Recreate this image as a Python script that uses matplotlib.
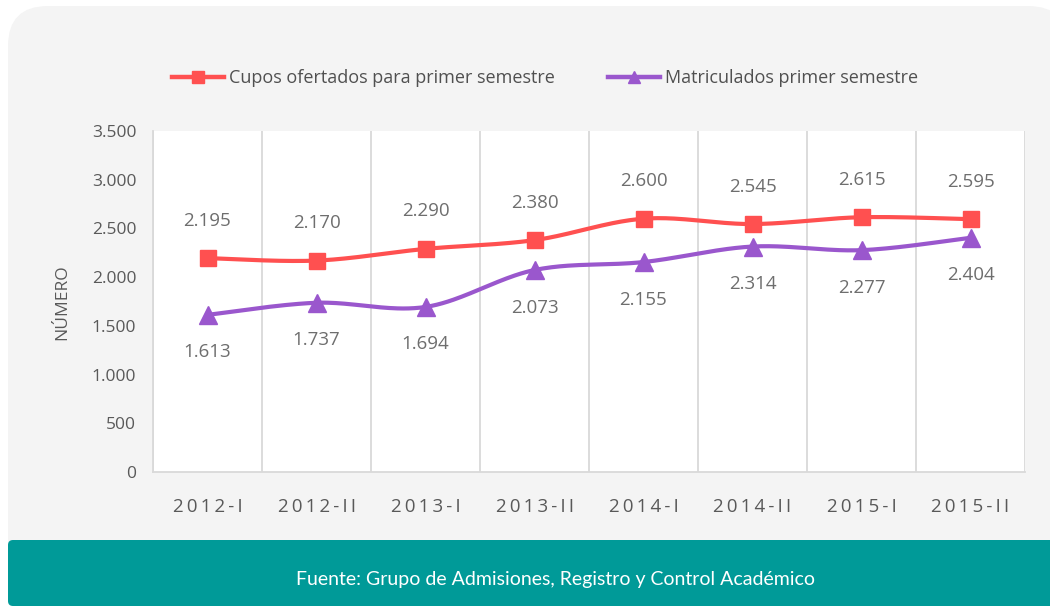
import numpy as np
import matplotlib
matplotlib.use("Agg")
import matplotlib.pyplot as plt
from matplotlib.patches import FancyBboxPatch, Rectangle
from matplotlib.transforms import Affine2D
from matplotlib.lines import Line2D

# ---------------- data ----------------
categories = ["2012-I", "2012-II", "2013-I", "2013-II", "2014-I", "2014-II", "2015-I", "2015-II"]
cupos = [2195, 2170, 2290, 2380, 2600, 2545, 2615, 2595]
matriculados = [1613, 1737, 1694, 2073, 2155, 2314, 2277, 2404]
series_names = ["Cupos ofertados para primer semestre", "Matriculados primer semestre"]
yticks = [0, 500, 1000, 1500, 2000, 2500, 3000, 3500]
footer = "Fuente: Grupo de Admisiones, Registro y Control Académico"

RED = "#FF5050"
PURPLE = "#9A57CD"
GRAY_TXT = "#595959"
LABEL_TXT = "#6E6E6E"
PANEL = "#F4F4F4"
TEAL = "#009A98"
FONT = ["Open Sans", "DejaVu Sans"]

W, H = 1050, 608
fig = plt.figure(figsize=(W / 100, H / 100), dpi=100)
fig.patch.set_facecolor("white")
px = Affine2D().scale(1 / W, 1 / H) + fig.transFigure

# background panel (rounded top corners)
fig.patches.append(FancyBboxPatch((8, 40), 1060, 562, boxstyle="round,pad=0,rounding_size=40",
                                  transform=px, facecolor=PANEL, edgecolor="none", zorder=-10))
fig.patches.append(Rectangle((8, 40), 1060, 200, transform=px, facecolor=PANEL,
                             edgecolor="none", zorder=-10))
# teal footer band
fig.patches.append(FancyBboxPatch((8, 2), 1060, 66, boxstyle="round,pad=0,rounding_size=5",
                                  transform=px, facecolor=TEAL, edgecolor="none", zorder=-9))
fig.text(556 / W, 1 - 580 / H, footer, color="white", fontsize=14, family=["Lato", "DejaVu Sans"],
         ha="center", va="center")

# ---------------- axes ----------------
ax = fig.add_axes([153 / W, 136 / H, 872 / W, 341 / H])
ax.set_zorder(2)
ax.set_facecolor("white")
x = np.arange(len(categories))


def catmull_rom(xs, ys, n=40):
    xs = np.asarray(xs, float)
    ys = np.asarray(ys, float)
    P = np.column_stack([xs, ys])
    P = np.vstack([P[0], P, P[-1]])
    out = []
    for i in range(1, len(P) - 2):
        p0, p1, p2, p3 = P[i - 1], P[i], P[i + 1], P[i + 2]
        t = np.linspace(0, 1, n)[:, None]
        seg = 0.5 * ((2 * p1) + (-p0 + p2) * t + (2 * p0 - 5 * p1 + 4 * p2 - p3) * t ** 2
                     + (-p0 + 3 * p1 - 3 * p2 + p3) * t ** 3)
        out.append(seg if i == 1 else seg[1:])
    out = np.vstack(out)
    return out[:, 0], out[:, 1]


for vals, color, marker, ms, off in [(cupos, RED, "s", 12, 27), (matriculados, PURPLE, "^", 13, -27)]:
    sx, sy = catmull_rom(x, vals)
    ax.plot(sx, sy, color=color, lw=3.0, solid_capstyle="round", zorder=3)
    ax.plot(x, vals, linestyle="none", marker=marker, color=color, markersize=ms, zorder=4)
    for xi, v in zip(x, vals):
        ax.annotate(f"{v:,}".replace(",", "."), (xi, v), xytext=(0, off), textcoords="offset points",
                    ha="center", va="center", fontsize=13.5, color=LABEL_TXT, family=FONT, zorder=5)

ax.set_xlim(-0.5, len(categories) - 0.5)
ax.set_ylim(0, 3500)
ax.set_yticks(yticks)
ax.set_yticklabels([f"{v:,}".replace(",", ".") for v in yticks], fontsize=12.5, color=GRAY_TXT,
                   family=FONT)
ax.set_xticks(x)
spaced = ["\u2009".join(list(c)) for c in categories]
ax.set_xticklabels(spaced, fontsize=13.5, color=GRAY_TXT, family=FONT)
ax.set_xticks(np.arange(-0.5, len(categories)), minor=True)
ax.grid(True, which="minor", axis="x", color="#D9D9D9", lw=1.3)
ax.tick_params(axis="both", which="both", length=0)
ax.tick_params(axis="x", pad=19)
ax.tick_params(axis="y", pad=12)
for s in ["top", "right"]:
    ax.spines[s].set_visible(False)
for s in ["left", "bottom"]:
    ax.spines[s].set_color("#D9D9D9")
    ax.spines[s].set_linewidth(1.3)

fig.text(62 / W, 1 - 302 / H, "NÚMERO", rotation=90, ha="center", va="center", fontsize=12.5,
         color=GRAY_TXT, family=FONT)

# legend
handles = [Line2D([], [], color=RED, lw=3.2, marker="s", markersize=8),
           Line2D([], [], color=PURPLE, lw=3.2, marker="^", markersize=9)]
leg = fig.legend(handles, series_names, loc="center", bbox_to_anchor=(545 / W, 1 - 78 / H), ncol=2,
                 frameon=False, handlelength=2.9, handletextpad=0.28, columnspacing=2.9,
                 prop={"family": FONT, "size": 13})
for t in leg.get_texts():
    t.set_color("#505050")

fig.savefig("out.png", dpi=100, facecolor="white")
